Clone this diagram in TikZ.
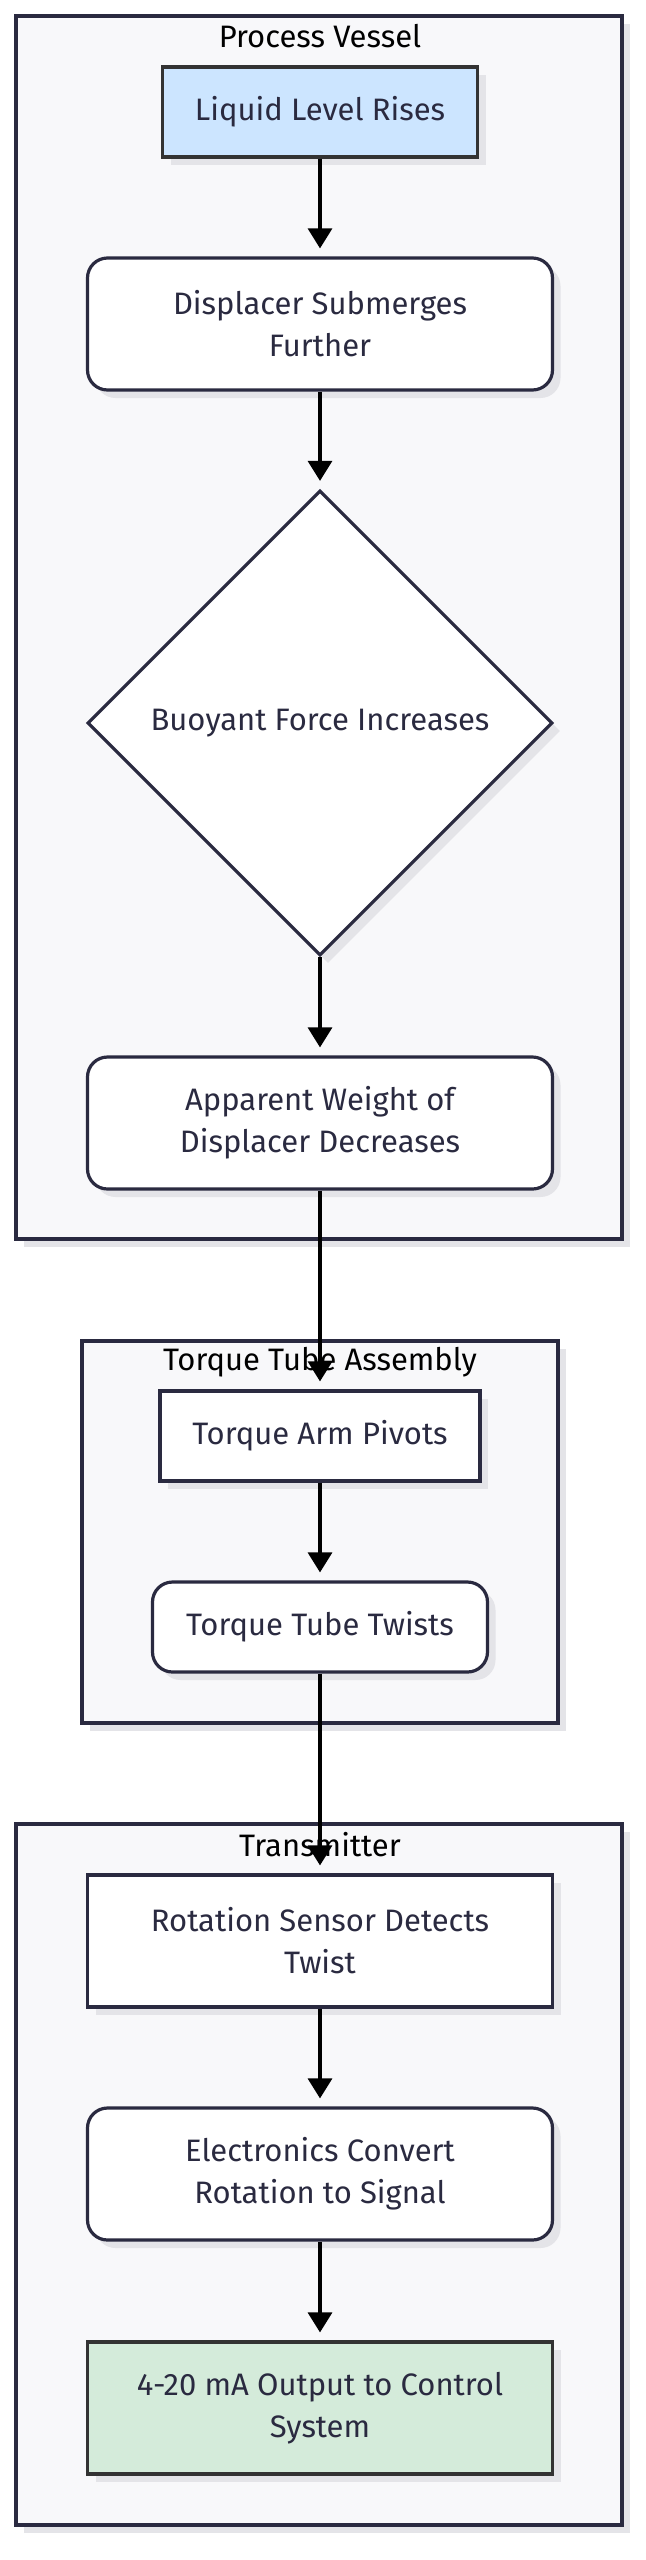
\documentclass[tikz,border=0pt]{standalone}
\usepackage{fontspec}
\setmainfont{Fira Sans}
\usetikzlibrary{shapes.geometric,arrows.meta,shadows}

\definecolor{edgecol}{HTML}{2A2A40}
\definecolor{txtcol}{HTML}{2A2A40}
\definecolor{clusterfill}{HTML}{F8F8FA}
\definecolor{shadowcol}{HTML}{E4E4E8}
\definecolor{startfill}{HTML}{CCE5FF}
\definecolor{endfill}{HTML}{D4EBDA}
\definecolor{accentline}{HTML}{333333}

\tikzset{
	myshadow/.style={drop shadow={shadow xshift=4pt,shadow yshift=-4pt,fill=shadowcol,opacity=1}},
	box/.style={draw=edgecol, line width=1.6pt, fill=white, text=txtcol, align=center,
		minimum width=232.5pt, minimum height=66pt, inner sep=0pt, myshadow,
		font=\fontsize{15.5}{21}\selectfont},
	roundbox/.style={box, rounded corners=10pt},
	decision/.style={box, diamond, aspect=1, minimum width=232.5pt, minimum height=232.5pt},
	cluster/.style={draw=edgecol, fill=clusterfill, line width=1.6pt, myshadow},
	clustertitle/.style={text=black, inner sep=0pt, font=\fontsize{15.5}{21}\selectfont},
	flow/.style={-{Triangle[width=12pt,length=10pt]}, line width=1.6pt, shorten >=4pt},
}

\begin{document}
\begin{tikzpicture}
	\useasboundingbox (0,0) rectangle (322.5pt,-1280pt);

	\draw[cluster] (8pt,-8pt) rectangle (311pt,-619.5pt);
	\draw[cluster] (41pt,-670.5pt) rectangle (279pt,-861.5pt);
	\draw[cluster] (8pt,-912pt) rectangle (311pt,-1262.5pt);

	\node[clustertitle] (vesseltitle) at (160pt,-18pt) {Process Vessel};
	\node[clustertitle] (torquetitle) at (160pt,-681pt) {Torque Tube Assembly};
	\node[clustertitle] (transtitle) at (160pt,-922.5pt) {Transmitter};

	\node[box, fill=startfill, draw=accentline, minimum width=157.5pt, minimum height=45pt] (liquid) at (160pt,-56pt) {Liquid Level Rises};
	\node[roundbox] (displacer) at (160pt,-162pt) {Displacer Submerges\\Further};
	\node[decision] (buoyant) at (160pt,-361.5pt) {Buoyant Force Increases};
	\node[roundbox] (apparent) at (160pt,-561.5pt) {Apparent Weight of\\Displacer Decreases};

	\node[box, minimum width=160pt, minimum height=45pt] (pivots) at (160pt,-718pt) {Torque Arm Pivots};
	\node[roundbox, minimum width=167.5pt, minimum height=45pt] (twists) at (160pt,-813.5pt) {Torque Tube Twists};

	\node[box] (sensor) at (160pt,-970.5pt) {Rotation Sensor Detects\\Twist};
	\node[roundbox] (electronics) at (160pt,-1087pt) {Electronics Convert\\Rotation to Signal};
	\node[box, fill=endfill, draw=accentline] (output) at (160pt,-1204pt) {4-20 mA Output to Control\\System};

	\draw[flow] (liquid) -- (displacer);
	\draw[flow] (displacer) -- (buoyant);
	\draw[flow] (buoyant) -- (apparent);
	\draw[flow] (apparent) -- (pivots);
	\draw[flow] (pivots) -- (twists);
	\draw[flow] (twists) -- (sensor);
	\draw[flow] (sensor) -- (electronics);
	\draw[flow] (electronics) -- (output);

\end{tikzpicture}
\end{document}
